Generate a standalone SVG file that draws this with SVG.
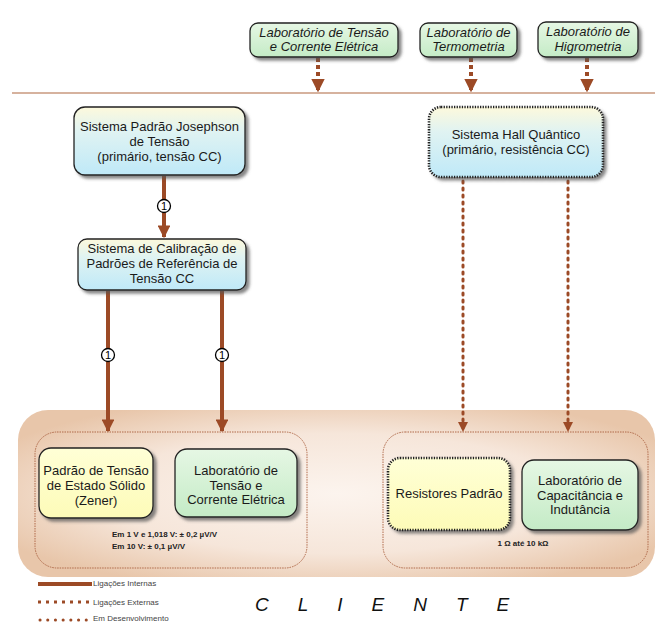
<svg xmlns="http://www.w3.org/2000/svg" width="659" height="625" viewBox="0 0 659 625">
<defs>
<linearGradient id="gBlue" x1="0" y1="0" x2="0" y2="1"><stop offset="0" stop-color="#fdf9dc"/><stop offset="0.35" stop-color="#e0f3f2"/><stop offset="1" stop-color="#bfe9f8"/></linearGradient>
<linearGradient id="gGreen" x1="0" y1="0" x2="0" y2="1"><stop offset="0" stop-color="#e6f7e4"/><stop offset="1" stop-color="#c4ebc6"/></linearGradient>
<linearGradient id="gYellow" x1="0" y1="0" x2="0" y2="1"><stop offset="0" stop-color="#ffffd6"/><stop offset="1" stop-color="#fdfbb8"/></linearGradient>
<radialGradient id="gBg" cx="0.5" cy="0.5" r="0.6"><stop offset="0" stop-color="#fcf4ee"/><stop offset="0.6" stop-color="#f6e6da"/><stop offset="1" stop-color="#e8c6aa"/></radialGradient>
<filter id="sh" x="-10%" y="-10%" width="130%" height="140%"><feDropShadow dx="3" dy="3" stdDeviation="1.5" flood-color="#555" flood-opacity="0.7"/></filter>
<marker id="ah" viewBox="0 0 10 10" refX="9" refY="5" markerWidth="3.2" markerHeight="3.2" orient="auto"><path d="M0,0 L10,5 L0,10 z" fill="#9c4a26"/></marker>
<marker id="ahd" viewBox="0 0 10 10" refX="9" refY="5" markerWidth="3.4" markerHeight="3.4" orient="auto"><path d="M0,0 L10,5 L0,10 z" fill="#9c4a26"/></marker>
</defs>
<style>
.t{font-family:"Liberation Sans",Arial,sans-serif;font-size:13px;fill:#1a1a1a;text-anchor:middle}
.ti{font-family:"Liberation Sans",Arial,sans-serif;font-size:13px;fill:#1a1a1a;text-anchor:middle;font-style:italic}
.b{stroke:#222;stroke-width:1.3;filter:url(#sh)}
.bd{stroke:#222;stroke-width:2.6;stroke-dasharray:1.3 1.3;filter:url(#sh)}
.solid{stroke:#9c4a26;stroke-width:4;fill:none}
.ext{stroke:#9c4a26;stroke-width:4;fill:none;stroke-dasharray:4 3}
.dev{stroke:#9c4a26;stroke-width:3;fill:none;stroke-dasharray:2 5;stroke-linecap:round}
.inner{fill:none;stroke:#b06a4a;stroke-width:1;stroke-dasharray:1.5 1}
.small{font-family:"Liberation Sans",Arial,sans-serif;font-size:8px;fill:#222;font-weight:bold}
.leg{font-family:"Liberation Sans",Arial,sans-serif;font-size:8px;fill:#444}
.num{font-family:"Liberation Sans",Arial,sans-serif;font-size:11px;fill:#000;text-anchor:middle}
</style>

<line x1="12" y1="93" x2="655" y2="93" stroke="#c8997e" stroke-width="1.6"/>

<g id="cliente-area">
<rect x="18" y="410" width="637" height="167" rx="30" fill="url(#gBg)"/>
<rect x="35" y="432" width="272" height="136" rx="22" class="inner"/>
<rect x="383" y="432" width="265" height="136" rx="22" class="inner"/>
</g>

<g id="connectors">
<line x1="318" y1="58" x2="318" y2="91" class="ext" marker-end="url(#ahd)"/>
<line x1="471" y1="58" x2="471" y2="91" class="ext" marker-end="url(#ahd)"/>
<line x1="587" y1="58" x2="587" y2="91" class="ext" marker-end="url(#ahd)"/>
<line x1="164" y1="176" x2="164" y2="237" class="solid" marker-end="url(#ah)"/>
<line x1="108" y1="291" x2="108" y2="431" class="solid" marker-end="url(#ah)"/>
<line x1="222" y1="291" x2="222" y2="431" class="solid" marker-end="url(#ah)"/>
<line x1="463" y1="181" x2="463" y2="431" class="dev" marker-end="url(#ahd)"/>
<line x1="568" y1="181" x2="568" y2="431" class="dev" marker-end="url(#ahd)"/>
<g id="n1a"><circle cx="164" cy="206" r="6.5" fill="#fff" stroke="#000" stroke-width="1.3"/><text x="164" y="210" class="num">1</text></g>
<g id="n1b"><circle cx="108" cy="355" r="6.5" fill="#fff" stroke="#000" stroke-width="1.3"/><text x="108" y="359" class="num">1</text></g>
<g id="n1c"><circle cx="222" cy="355" r="6.5" fill="#fff" stroke="#000" stroke-width="1.3"/><text x="222" y="359" class="num">1</text></g>
</g>

<g id="lab-tensao-top">
<rect x="250" y="23" width="148" height="34" rx="8" fill="url(#gGreen)" class="b"/>
<text x="324" y="37" class="ti">Laboratório de Tensão</text>
<text x="324" y="51" class="ti">e Corrente Elétrica</text>
</g>
<g id="lab-termometria">
<rect x="420" y="23" width="97" height="34" rx="8" fill="url(#gGreen)" class="b"/>
<text x="468.5" y="37" class="ti">Laboratório de</text>
<text x="468.5" y="51" class="ti">Termometria</text>
</g>
<g id="lab-higrometria">
<rect x="538" y="22" width="100" height="35" rx="8" fill="url(#gGreen)" class="b"/>
<text x="588" y="36" class="ti">Laboratório de</text>
<text x="588" y="51" class="ti">Higrometria</text>
</g>

<g id="josephson">
<rect x="74" y="107" width="171" height="68" rx="11" fill="url(#gBlue)" class="b"/>
<text x="159.5" y="131" class="t">Sistema Padrão Josephson</text>
<text x="159.5" y="146" class="t">de Tensão</text>
<text x="159.5" y="161" class="t">(primário, tensão CC)</text>
</g>

<g id="calibracao">
<rect x="78" y="239" width="168" height="51" rx="9" fill="url(#gBlue)" class="b"/>
<text x="162" y="253" class="t">Sistema de Calibração de</text>
<text x="162" y="268" class="t">Padrões de Referência de</text>
<text x="162" y="283" class="t">Tensão CC</text>
</g>

<g id="hall">
<rect x="429" y="107" width="174" height="70" rx="12" fill="url(#gBlue)" class="bd"/>
<text x="516" y="139" class="t">Sistema Hall Quântico</text>
<text x="516" y="154" class="t">(primário, resistência CC)</text>
</g>

<g id="zener">
<rect x="39" y="448" width="114" height="70" rx="12" fill="url(#gYellow)" class="b"/>
<text x="96" y="475" class="t">Padrão de Tensão</text>
<text x="96" y="490" class="t">de Estado Sólido</text>
<text x="96" y="505" class="t">(Zener)</text>
</g>

<g id="lab-tensao">
<rect x="175" y="449" width="122" height="68" rx="12" fill="url(#gGreen)" class="b"/>
<text x="236" y="475" class="t">Laboratório de</text>
<text x="236" y="490" class="t">Tensão e</text>
<text x="236" y="504" class="t">Corrente Elétrica</text>
</g>

<text x="112" y="537" class="small">Em 1 V e 1,018 V: ± 0,2 µV/V</text>
<text x="112" y="549" class="small">Em 10 V:  ± 0,1 µV/V</text>

<g id="resistores">
<rect x="388" y="458" width="122" height="72" rx="12" fill="url(#gYellow)" class="bd"/>
<text x="449" y="498" class="t">Resistores Padrão</text>
</g>

<g id="lab-capacitancia">
<rect x="522" y="460" width="116" height="70" rx="12" fill="url(#gGreen)" class="b"/>
<text x="580" y="485" class="t">Laboratório de</text>
<text x="580" y="500" class="t">Capacitância e</text>
<text x="580" y="514" class="t">Indutância</text>
</g>

<text x="523" y="546" class="small" text-anchor="middle">1 Ω até 10 kΩ</text>

<g id="legend">
<line x1="38" y1="584" x2="92" y2="584" class="solid"/>
<text x="93" y="586" class="leg">Ligações Internas</text>
<line x1="38" y1="602" x2="92" y2="602" stroke="#9c4a26" stroke-width="3" stroke-dasharray="3 5"/>
<text x="93" y="605" class="leg">Ligações Externas</text>
<line x1="40" y1="620" x2="92" y2="620" stroke="#9c4a26" stroke-width="3" stroke-dasharray="0.1 7.6" stroke-linecap="round"/>
<text x="93" y="621" class="leg">Em Desenvolvimento</text>
</g>

<text x="255" y="611" font-family="Liberation Sans, Arial, sans-serif" font-size="19" font-style="italic" fill="#111" letter-spacing="29">CLIENTE</text>
</svg>
